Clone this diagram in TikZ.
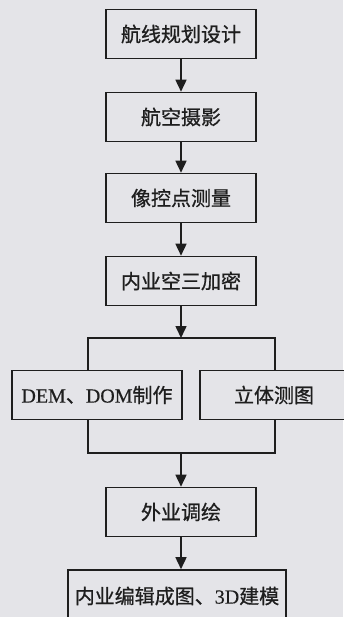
\documentclass[tikz,border=0pt]{standalone}
\usepackage{fontspec}
\setmainfont{Liberation Serif}[FakeBold=0.3]
\newfontfamily\cjk{Noto Sans CJK SC}[FakeBold=0.8]
\usetikzlibrary{arrows.meta}
\definecolor{bg}{HTML}{E4E4E8}
\definecolor{ink}{HTML}{1E1E1E}
\begin{document}
\begin{tikzpicture}[x=1pt,y=-1pt,
  box/.style={draw=ink,line width=1.6pt,fill=bg,minimum height=49pt,inner sep=0pt,
    font=\fontsize{20pt}{24pt}\selectfont,text=ink},
  link/.style={draw=ink,line width=1.6pt},
  arr/.style={link,-{Triangle[length=12pt,width=11pt]}}]
\fill[bg] (0,0) rectangle (343,617);
\useasboundingbox (0,0) rectangle (343,617);
\node[box,minimum width=150pt] (b1) at (181,34) {\cjk 航线规划设计};
\node[box,minimum width=150pt] (b2) at (181,117) {\cjk 航空摄影};
\node[box,minimum width=150pt] (b3) at (181,198) {\cjk 像控点测量};
\node[box,minimum width=150pt] (b4) at (181,281) {\cjk 内业空三加密};
\node[box,minimum width=170pt] (b5) at (97,395) {DEM{\cjk 、}DOM{\cjk 制作}};
\node[box,minimum width=148pt] (b6) at (274,395) {\cjk 立体测图};
\node[box,minimum width=150pt] (b7) at (181,512) {\cjk 外业调绘};
\node[box,minimum width=218pt,minimum height=52pt] (b8) at (177,596) {{\cjk 内业编辑成图、}3D{\cjk 建模}};
\coordinate (tl) at (88,338);
\coordinate (tr) at (275,338);
\coordinate (bl) at (88,453);
\coordinate (br) at (275,453);
\draw[arr] (b1.south) -- (b2.north);
\draw[arr] (b2.south) -- (b3.north);
\draw[arr] (b3.south) -- (b4.north);
\draw[arr] (b4.south) -- (b4.south |- tl);
\draw[link] (tl |- b5.north) -- (tl) -- (tr) -- (tr |- b6.north);
\draw[link] (bl |- b5.south) -- (bl) -- (br) -- (br |- b6.south);
\draw[arr] (b4.south |- bl) -- (b7.north);
\draw[arr] (b7.south) -- (b8.north -| b7.south);
\end{tikzpicture}
\end{document}
